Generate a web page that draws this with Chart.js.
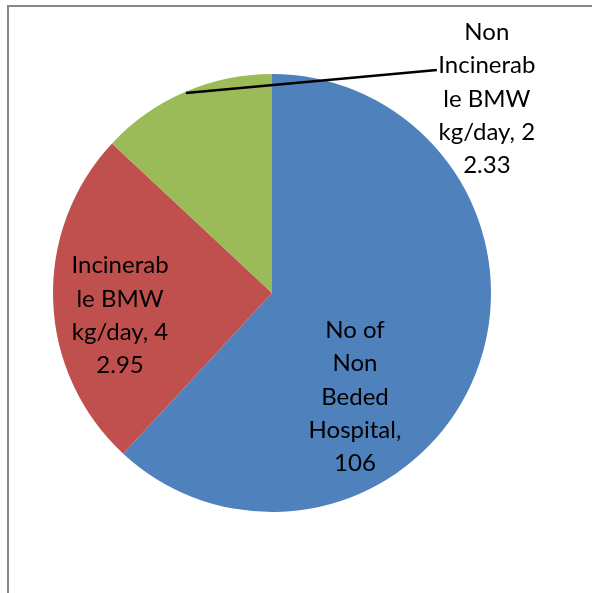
<!DOCTYPE html>
<html>
<head>
<meta charset="utf-8">
<script src="https://cdn.jsdelivr.net/npm/chart.js@4.4.0/dist/chart.umd.min.js"></script>
<style>
html,body{margin:0;padding:0;background:#fff;}
#wrap{position:relative;width:592px;height:593px;}
</style>
</head>
<body>
<div id="wrap"><canvas id="c" width="592" height="593"></canvas></div>
<script>
const categories = ["No of Non Beded Hospital", "Incinerable BMW kg/day", "Non Incinerable BMW kg/day"];
const values = [106, 42.95, 22.33];
const labelLines = [
  ["No of", "Non", "Beded", "Hospital,", "106"],
  ["Incinerab", "le BMW", "kg/day, 4", "2.95"],
  ["Non", "Incinerab", "le BMW", "kg/day, 2", "2.33"]
];
const colors = ["#4F81BD", "#C0504D", "#9BBB59"];

// label placement relative to pie centre, in units of radius
const labelPos = [
  {dx: 0.379, dy: 0.475, leader: null},
  {dx: -0.694, dy: 0.103, leader: null},
  {dx: 0.981, dy: -0.886, leader: {from: [-0.393, -0.913], to: [0.753, -1.018]}}
];

const framePlugin = {
  id: 'frame',
  beforeDraw(chart) {
    const ctx = chart.ctx;
    ctx.save();
    ctx.strokeStyle = '#868686';
    ctx.lineWidth = 2;
    ctx.beginPath();
    ctx.moveTo(8, 593);
    ctx.lineTo(8, 6);
    ctx.lineTo(592, 6);
    ctx.stroke();
    ctx.restore();
  }
};

const labelPlugin = {
  id: 'sliceLabels',
  afterDatasetsDraw(chart) {
    const ctx = chart.ctx;
    const meta = chart.getDatasetMeta(0);
    ctx.save();
    ctx.fillStyle = '#000';
    ctx.font = '24px Lato, "Liberation Sans", sans-serif';
    ctx.textAlign = 'center';
    ctx.textBaseline = 'middle';
    const lh = 33.3;
    meta.data.forEach((arc, i) => {
      const cx = arc.x, cy = arc.y, r = arc.outerRadius;
      const p = labelPos[i];
      if (p.leader) {
        ctx.beginPath();
        ctx.strokeStyle = '#000';
        ctx.lineWidth = 2.5;
        ctx.moveTo(cx + p.leader.from[0] * r, cy + p.leader.from[1] * r);
        ctx.lineTo(cx + p.leader.to[0] * r, cy + p.leader.to[1] * r);
        ctx.stroke();
      }
      const lines = labelLines[i];
      const x = cx + p.dx * r;
      const y0 = cy + p.dy * r - (lines.length - 1) * lh / 2;
      lines.forEach((t, k) => ctx.fillText(t, x, y0 + k * lh));
    });
    ctx.restore();
  }
};

new Chart(document.getElementById('c'), {
  type: 'pie',
  data: {
    labels: categories,
    datasets: [{
      data: values,
      backgroundColor: colors,
      borderWidth: 0
    }]
  },
  options: {
    responsive: false,
    animation: false,
    layout: {padding: {left: 53, right: 101, top: 74, bottom: 81}},
    plugins: {legend: {display: false}, tooltip: {enabled: false}}
  },
  plugins: [framePlugin, labelPlugin]
});
</script>
</body>
</html>
